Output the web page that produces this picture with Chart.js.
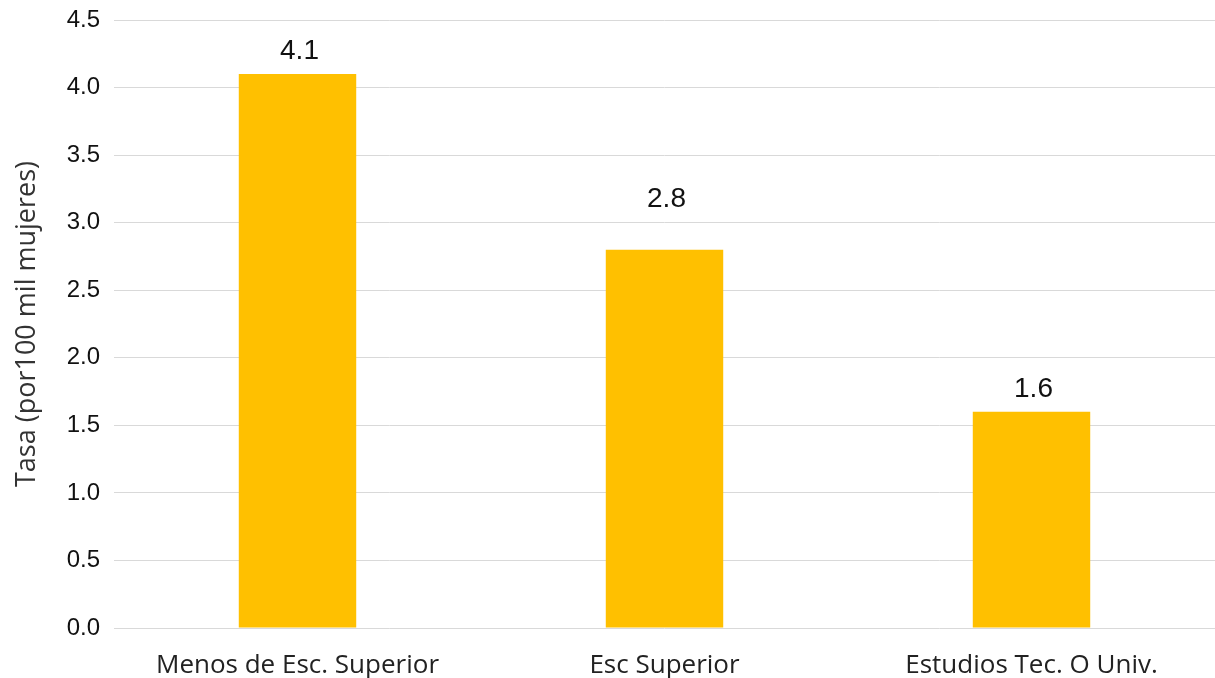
<!DOCTYPE html>
<html>
<head>
<meta charset="utf-8">
<script src="https://cdn.jsdelivr.net/npm/chart.js@4/dist/chart.umd.min.js"></script>
<style>
html,body{margin:0;padding:0;background:#fff;}
#wrap{width:1215px;height:678px;position:relative;}
</style>
</head>
<body>
<div id="wrap"><canvas id="c" width="1215" height="678"></canvas></div>
<script>
const categories = ["Menos de Esc. Superior", "Esc Superior", "Estudios Tec. O Univ."];
const values = [4.1, 2.8, 1.6];
const valueLabels = ["4.1", "2.8", "1.6"];
const yTitle = "Tasa (por100 mil mujeres)";

const labelPlugin = {
  id: 'valueLabels',
  afterDatasetsDraw(chart, args, opts) {
    const ctx = chart.ctx;
    const meta = chart.getDatasetMeta(0);
    ctx.save();
    ctx.font = '28px "Liberation Sans", Arial, sans-serif';
    ctx.fillStyle = '#111';
    ctx.textAlign = 'center';
    ctx.textBaseline = 'middle';
    meta.data.forEach((bar, i) => {
      const off = opts.offsets[i];
      ctx.fillText(valueLabels[i], bar.x + 2, bar.y - off);
    });
    ctx.restore();
  }
};

new Chart(document.getElementById('c'), {
  type: 'bar',
  data: {
    labels: categories,
    datasets: [{
      data: values,
      backgroundColor: '#FFC000',
      borderWidth: 0,
      categoryPercentage: 1.0,
      barPercentage: 0.32
    }]
  },
  options: {
    responsive: false,
    animation: false,
    layout: { padding: { top: 20, right: 0, left: 0, bottom: 0 } },
    plugins: {
      legend: { display: false },
      tooltip: { enabled: false },
      valueLabels: { offsets: [23, 50, 23] }
    },
    scales: {
      x: {
        grid: { display: false, drawTicks: false },
        border: { display: false },
        afterFit(scale) { scale.height = 50; scale.paddingLeft = 0; scale.paddingRight = 0; },
        ticks: {
          color: '#222',
          padding: 22,
          font: { family: '"Open Sans", "Noto Sans", sans-serif', size: 26 },
          maxRotation: 0
        }
      },
      y: {
        min: 0,
        max: 4.5,
        grid: { color: '#d9d9d9', drawTicks: false, lineWidth: 1 },
        border: { display: false },
        afterFit(scale) { scale.width = 114; scale.paddingTop = 0; scale.paddingBottom = 0; },
        ticks: {
          stepSize: 0.5,
          padding: 14,
          color: '#111',
          font: { family: '"Liberation Sans", Arial, sans-serif', size: 24 },
          callback: v => Number(v).toFixed(1)
        },
        title: {
          display: true,
          text: yTitle,
          color: '#333',
          padding: { top: 11, bottom: 0 },
          font: { family: '"Open Sans", "Noto Sans", sans-serif', size: 27 }
        }
      }
    }
  },
  plugins: [labelPlugin]
});
</script>
</body>
</html>
